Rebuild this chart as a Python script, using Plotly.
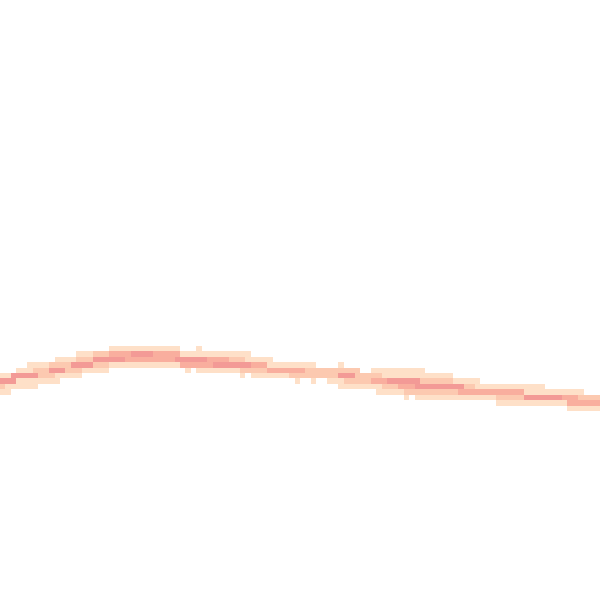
import plotly.graph_objects as go

# Grid size (columns x rows) of the binned density heatmap
n_cols = 110
n_rows = 110

# Runs of equal-intensity cells:
# row index (from the top), first column, last column, intensity level (1-4)
run_row = [
    63, 63,
    64, 64, 64, 64, 64, 64,
    65, 65, 65, 65, 65, 65, 65, 65,
    66, 66, 66, 66, 66, 66, 66, 66, 66, 66,
    67, 67, 67, 67, 67, 67, 67, 67, 67, 67, 67,
    68, 68, 68, 68, 68, 68, 68, 68, 68, 68,
    69, 69, 69, 69, 69, 69, 69, 69, 69, 69,
    70, 70, 70, 70, 70, 70, 70, 70,
    71, 71, 71, 71, 71,
    72, 72, 72, 72, 72, 72,
    73, 73,
    74,
]
run_start = [
    20, 36,
    14, 17, 20, 24, 28, 33,
    10, 14, 17, 23, 32, 38, 42, 45,
    5, 9, 13, 17, 20, 33, 39, 46, 49, 62,
    3, 6, 9, 12, 15, 34, 36, 44, 49, 56, 68,
    0, 2, 7, 10, 44, 46, 53, 62, 65, 70,
    0, 3, 54, 57, 60, 63, 68, 71, 77, 83,
    0, 1, 62, 70, 73, 76, 85, 87,
    0, 69, 74, 84, 96,
    74, 76, 91, 96, 103, 106,
    91, 104,
    104,
]
run_end = [
    32, 36,
    16, 19, 23, 27, 32, 45,
    13, 16, 22, 31, 37, 41, 44, 49,
    8, 12, 16, 19, 32, 38, 45, 48, 57, 62,
    5, 8, 11, 14, 19, 34, 43, 48, 55, 65, 77,
    1, 6, 9, 14, 44, 52, 61, 64, 69, 82,
    2, 10, 54, 57, 62, 67, 70, 76, 82, 87,
    0, 6, 69, 72, 75, 84, 86, 99,
    1, 73, 83, 95, 106,
    74, 90, 95, 102, 105, 109,
    103, 109,
    109,
]
run_level = [
    1, 1,
    1, 2, 3, 4, 3, 1,
    1, 2, 4, 3, 4, 3, 2, 1,
    1, 2, 4, 2, 1, 3, 4, 3, 1, 1,
    1, 2, 4, 2, 1, 1, 1, 2, 3, 2, 1,
    1, 4, 2, 1, 1, 1, 2, 4, 2, 1,
    4, 1, 1, 1, 1, 2, 3, 4, 2, 1,
    2, 1, 1, 2, 3, 4, 2, 1,
    1, 1, 2, 3, 1,
    1, 1, 2, 4, 3, 2,
    1, 3,
    1,
]
level_colors = ["#fee0c8", "#fcc9b0", "#f9ae9e", "#f39a96"]

z = [[None] * n_cols for _ in range(n_rows)]
for r, c0, c1, lv in zip(run_row, run_start, run_end, run_level):
    for c in range(c0, c1 + 1):
        z[r][c] = lv

colorscale = [[i / 3, col] for i, col in enumerate(level_colors)]

fig = go.Figure(go.Heatmap(
    z=z,
    x=list(range(n_cols)),
    y=list(range(n_rows)),
    zmin=1, zmax=4,
    colorscale=colorscale,
    showscale=False,
    hoverongaps=False,
))
fig.update_layout(
    width=600, height=600,
    margin=dict(l=0, r=0, t=0, b=0),
    paper_bgcolor="white", plot_bgcolor="white",
    xaxis=dict(visible=False, range=[-0.5, n_cols - 0.5]),
    yaxis=dict(visible=False, range=[n_rows - 0.88, -0.88]),
    showlegend=False,
)
fig.write_html(
    "out.html",
    config={"displayModeBar": False},
    post_script="document.body.style.margin='0';document.body.style.overflow='hidden';",
)
